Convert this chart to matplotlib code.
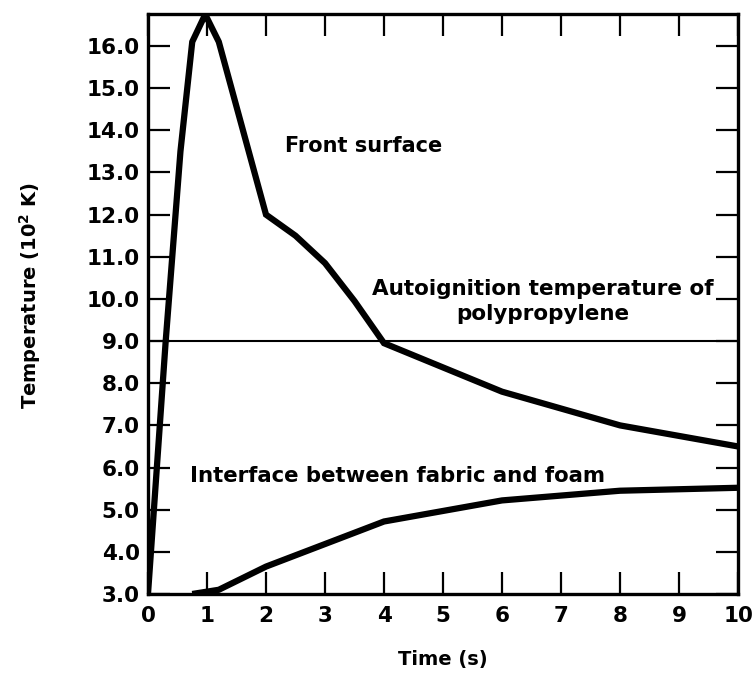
import matplotlib
matplotlib.use("Agg")
import matplotlib.pyplot as plt

# Front surface temperature (10^2 K) vs time (s)
front_t = [0.0, 0.1, 0.3, 0.55, 0.75, 0.97, 1.2, 2.0, 2.5, 3.0, 3.5, 4.0, 6.0, 8.0, 10.0]
front_T = [3.0, 5.0, 9.0, 13.5, 16.1, 16.75, 16.1, 12.0, 11.5, 10.85, 9.95, 8.95, 7.8, 7.0, 6.5]

# Interface between fabric and foam
inter_t = [0.75, 1.2, 2.0, 4.0, 6.0, 8.0, 10.0]
inter_T = [3.0, 3.1, 3.65, 4.72, 5.22, 5.45, 5.52]

autoignition_T = 9.0

x_ticks = list(range(0, 11))
y_ticks = [3.0, 4.0, 5.0, 6.0, 7.0, 8.0, 9.0, 10.0, 11.0, 12.0, 13.0, 14.0, 15.0, 16.0]

plt.rcParams['font.family'] = ['DejaVu Sans']
plt.rcParams['font.weight'] = 'bold'
plt.rcParams['mathtext.default'] = 'bf'

fig = plt.figure(figsize=(7.52, 6.73), dpi=100)
ax = fig.add_axes([0.1968, 0.1174, 0.7846, 0.8618])

ax.plot(front_t, front_T, color='black', lw=4.5, solid_joinstyle='miter', solid_capstyle='butt')
ax.plot(inter_t, inter_T, color='black', lw=4.5, solid_joinstyle='miter', solid_capstyle='butt')
ax.axhline(autoignition_T, color='black', lw=1.5)

ax.set_xlim(0, 10)
ax.set_ylim(3.0, 16.76)
ax.set_xticks(x_ticks)
ax.set_xticklabels([str(v) for v in x_ticks])
ax.set_yticks(y_ticks)
ax.set_yticklabels([f"{v:.1f}" for v in y_ticks])

ax.tick_params(axis='both', direction='in', length=16, width=1.6, top=True, right=True,
               labelsize=15.5)
ax.tick_params(axis='x', pad=9)
ax.tick_params(axis='y', pad=6)
for s in ax.spines.values():
    s.set_linewidth(2.4)

for lab in ax.get_xticklabels() + ax.get_yticklabels():
    lab.set_fontweight('bold')

ax.set_xlabel("Time (s)", fontsize=14, fontweight='bold', labelpad=17)
ax.set_ylabel("Temperature (10$^{2}$ K)", fontsize=14, fontweight='bold')
ax.yaxis.set_label_coords(-0.178, 0.515)

ax.text(2.32, 13.63, "Front surface", fontsize=15, fontweight='bold', ha='left', va='center')
ax.text(6.69, 9.93, "Autoignition temperature of\npolypropylene", fontsize=15.5, fontweight='bold',
        ha='center', va='center', linespacing=1.3)
ax.text(0.72, 5.8, "Interface between fabric and foam", fontsize=15.3, fontweight='bold',
        ha='left', va='center')

fig.savefig("out.png", dpi=100)
